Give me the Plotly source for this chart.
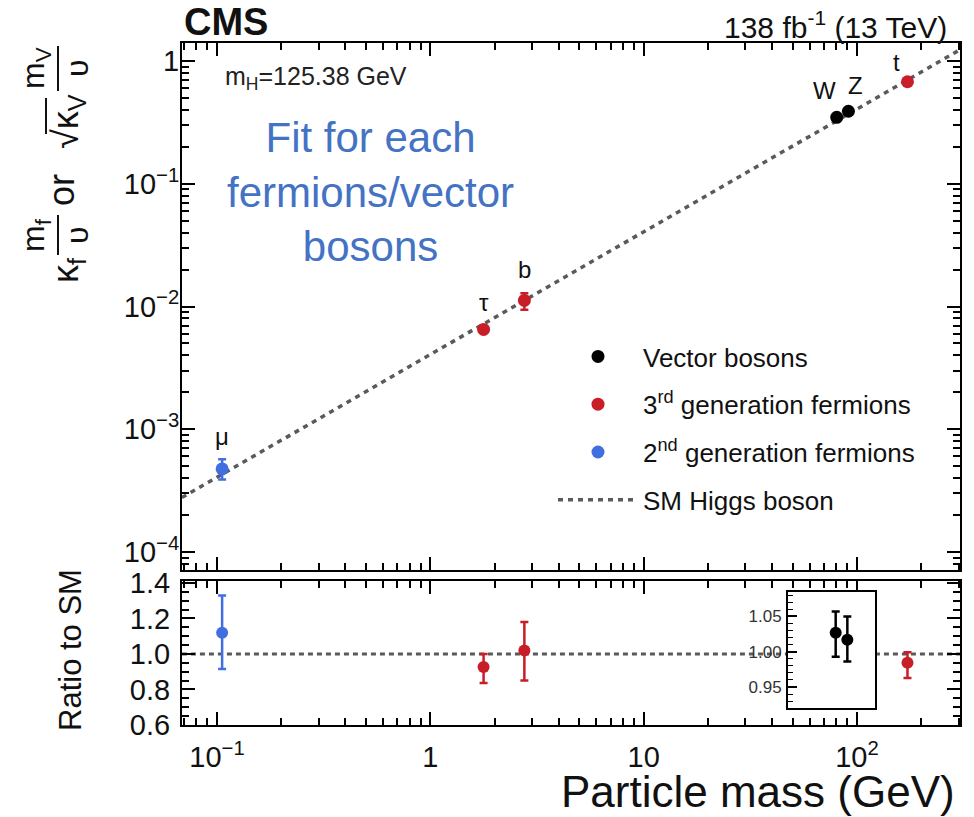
import numpy as np
import plotly.graph_objects as go

W, H = 974, 817
def px(x):
    return x / W
def py(y):
    return 1 - y / H

# ---------------- data ----------------
# Vector bosons (W, Z)
vb_names = ["W", "Z"]
vb_mass = [80.38, 91.19]
vb_val = [0.348, 0.390]
vb_err_up = [0.012, 0.013]
vb_err_dn = [0.012, 0.013]
vb_ratio = [1.027, 1.017]
vb_ratio_up = [0.030, 0.033]
vb_ratio_dn = [0.034, 0.031]

# 3rd generation fermions (tau, b, t)
g3_names = ["τ", "b", "t"]
g3_mass = [1.777, 2.76, 172.5]
g3_val = [0.0065, 0.0112, 0.678]
g3_err_up = [0.0004, 0.0016, 0.02]
g3_err_dn = [0.0004, 0.0018, 0.02]
g3_ratio = [0.927, 1.02, 0.95]
g3_ratio_up = [0.073, 0.16, 0.06]
g3_ratio_dn = [0.09, 0.17, 0.085]

# 2nd generation fermions (mu)
g2_names = ["μ"]
g2_mass = [0.1057]
g2_val = [4.75e-4]
g2_err_up = [0.94e-4]
g2_err_dn = [0.85e-4]
g2_ratio = [1.12]
g2_ratio_up = [0.21]
g2_ratio_dn = [0.205]

# SM Higgs boson expectation
sm_mass = [0.0685, 305.0]
sm_val = [2.78e-4, 1.239]
sm_ratio = [1.0, 1.0]

# tick labels
x_tickvals = [0.1, 1, 10, 100]
x_ticktext = ["10<sup>−1</sup>", "1", "10", "10<sup>2</sup>"]
y_tickvals = [1e-4, 1e-3, 1e-2, 1e-1, 1]
y_ticktext = ["10<sup>−4</sup>", "10<sup>−3</sup>", "10<sup>−2</sup>", "10<sup>−1</sup>", "1"]
r_tickvals = [0.6, 0.8, 1.0, 1.2, 1.4]
inset_tickvals = [0.95, 1.00, 1.05]

# label placement offsets (px) for particle names
label_offsets = {"μ": (0, 32), "τ": (0, 27), "b": (0, 31), "W": (-12, 27), "Z": (7, 26), "t": (-11, 19)}

# ---------------- styling ----------------
FONT = "Liberation Sans, Arial, sans-serif"
BLACK = "#000000"
RED = "#c81e28"
BLUE = "#416ee1"
GRAY = "#5a5a5a"

minor_x = [d * 10.0 ** e for e in range(-2, 3) for d in range(2, 10)]
minor_y = [d * 10.0 ** e for e in range(-5, 1) for d in range(2, 10)]

fig = go.Figure()

def err(up, dn, color, width=4):
    return dict(type="data", symmetric=False, array=up, arrayminus=dn,
                color=color, thickness=2.5, width=width, visible=True)

# main panel
fig.add_trace(go.Scatter(x=sm_mass, y=sm_val, mode="lines", name="SM Higgs boson",
                         line=dict(color=GRAY, width=3.5, dash="5px,5px"),
                         legendgroup="d", legendrank=4, xaxis="x", yaxis="y"))
fig.add_trace(go.Scatter(x=vb_mass, y=vb_val, mode="markers", name="Vector bosons",
                         marker=dict(color=BLACK, size=13), error_y=err(vb_err_up, vb_err_dn, BLACK),
                         legendgroup="a", legendrank=1, xaxis="x", yaxis="y"))
fig.add_trace(go.Scatter(x=g3_mass, y=g3_val, mode="markers", name="3<sup>rd</sup> generation fermions",
                         marker=dict(color=RED, size=13), error_y=err(g3_err_up, g3_err_dn, RED),
                         legendgroup="b", legendrank=2, xaxis="x", yaxis="y"))
fig.add_trace(go.Scatter(x=g2_mass, y=g2_val, mode="markers", name="2<sup>nd</sup> generation fermions",
                         marker=dict(color=BLUE, size=13), error_y=err(g2_err_up, g2_err_dn, BLUE),
                         legendgroup="c", legendrank=3, xaxis="x", yaxis="y"))

# ratio panel
fig.add_trace(go.Scatter(x=sm_mass, y=sm_ratio, mode="lines", showlegend=False,
                         line=dict(color=GRAY, width=3, dash="5px,4px"), xaxis="x2", yaxis="y2"))
fig.add_trace(go.Scatter(x=g3_mass, y=g3_ratio, mode="markers", showlegend=False,
                         marker=dict(color=RED, size=12), error_y=err(g3_ratio_up, g3_ratio_dn, RED),
                         xaxis="x2", yaxis="y2"))
fig.add_trace(go.Scatter(x=g2_mass, y=g2_ratio, mode="markers", showlegend=False,
                         marker=dict(color=BLUE, size=12), error_y=err(g2_ratio_up, g2_ratio_dn, BLUE),
                         xaxis="x2", yaxis="y2"))
# inset
fig.add_trace(go.Scatter(x=vb_mass, y=vb_ratio, mode="markers", showlegend=False,
                         marker=dict(color=BLACK, size=12), error_y=err(vb_ratio_up, vb_ratio_dn, BLACK),
                         xaxis="x3", yaxis="y3"))

axis_common = dict(showline=True, linecolor=BLACK, linewidth=2, mirror="allticks",
                   ticks="inside", ticklen=13, tickwidth=1.8, tickcolor=BLACK,
                   showgrid=False, zeroline=False, automargin=False)

xr = [-1.164, 2.483]
fig.update_layout(
    width=W, height=H, margin=dict(l=0, r=0, t=0, b=0, autoexpand=False),
    paper_bgcolor="white", plot_bgcolor="white",
    font=dict(family=FONT, color="#111"),
    xaxis=dict(**axis_common, type="log", domain=[px(182), px(960)], range=xr, anchor="y",
               tickmode="array", tickvals=x_tickvals, showticklabels=False,
               minor=dict(ticks="inside", ticklen=7, tickwidth=1.5, tickcolor=BLACK,
                          tickmode="array", tickvals=minor_x)),
    yaxis=dict(**axis_common, type="log", domain=[py(570), py(43)], range=[-4.147, 0.147], anchor="x",
               tickmode="array", tickvals=y_tickvals, ticktext=y_ticktext,
               tickfont=dict(size=29, color="#111"), ticklabelstandoff=-5,
               minor=dict(ticks="inside", ticklen=7, tickwidth=1.5, tickcolor=BLACK,
                          tickmode="array", tickvals=minor_y)),
    xaxis2=dict(**axis_common, type="log", domain=[px(182), px(960)], range=xr, anchor="y2",
                tickmode="array", tickvals=x_tickvals, ticktext=x_ticktext,
                tickfont=dict(size=29, color="#111"), ticklabelstandoff=5,
                minor=dict(ticks="inside", ticklen=7, tickwidth=1.5, tickcolor=BLACK,
                           tickmode="array", tickvals=minor_x)),
    yaxis2=dict(**axis_common, domain=[py(725), py(581)], range=[0.6, 1.411], anchor="x2",
                tickmode="array", tickvals=r_tickvals, tickformat=".1f",
                tickfont=dict(size=29, color="#111"), ticklabelstandoff=4,
                minor=dict(ticks="inside", ticklen=7, tickwidth=1.5, tickcolor=BLACK,
                           dtick=0.05, tick0=0.6)),
    xaxis3=dict(showline=True, linecolor=BLACK, linewidth=2, mirror=True, ticks="",
                showticklabels=False, showgrid=False, zeroline=False, automargin=False,
                type="log", domain=[px(788), px(875)], range=[1.681, 2.090], anchor="y3"),
    yaxis3=dict(showline=True, linecolor=BLACK, linewidth=2, mirror=True, ticks="inside",
                ticklen=9, tickwidth=1.5, tickcolor=BLACK, showgrid=False, zeroline=False,
                automargin=False,
                domain=[py(708), py(592)], range=[0.9203, 1.0846], anchor="x3",
                tickmode="array", tickvals=inset_tickvals, tickformat=".2f",
                tickfont=dict(size=17, color="#333"), ticklabelstandoff=1,
                minor=dict(ticks="inside", ticklen=5, tickwidth=1.2, tickcolor=BLACK,
                           dtick=0.01, tick0=0.9)),
    legend=dict(x=px(553), y=py(333), xanchor="left", yanchor="top",
                font=dict(size=26, color="#111"), itemwidth=80, tracegroupgap=11,
                bgcolor="rgba(0,0,0,0)", traceorder="grouped"),
)

ann = []
def add_labels(names, mass, vals):
    for n, m, v in zip(names, mass, vals):
        dx, dy = label_offsets[n]
        ann.append(dict(x=np.log10(m), y=np.log10(v), xref="x", yref="y", text=n,
                        showarrow=False, xshift=dx, yshift=dy, font=dict(size=24, color="#111")))
add_labels(vb_names, vb_mass, vb_val)
add_labels(g3_names, g3_mass, g3_val)
add_labels(g2_names, g2_mass, g2_val)

def pann(x, y, text, size, xanchor="center", yanchor="middle", angle=0, color="#111", align="center"):
    ann.append(dict(x=px(x), y=py(y), xref="paper", yref="paper", text=text, showarrow=False,
                    xanchor=xanchor, yanchor=yanchor, textangle=angle,
                    font=dict(size=size, color=color, family=FONT), align=align))

pann(182, 22, "<b>CMS</b>", 38, xanchor="left")
pann(949, 25, "138 fb<sup>-1</sup> (13 TeV)", 30, xanchor="right")
pann(223, 78, "m<sub>H</sub>=125.38 GeV", 25, xanchor="left", color="#222")
pann(370, 192, "Fit for each<br>fermions/vector<br>bosons", 42, color="#4472C4")
pann(957, 791, "Particle mass (GeV)", 44, xanchor="right")
pann(70, 650, "Ratio to SM", 31, angle=-90)

# composite y-axis title: κf (mf/υ) or √κV (mV/υ)
pann(68, 270, "κ<sub>f</sub>", 36, angle=-90)
pann(35, 235, "m<sub>f</sub>", 32, angle=-90)
pann(77, 235, "υ", 32, angle=-90)
pann(62, 190, "or", 36, angle=-90)
pann(68, 122, "√κ<sub>V</sub>", 36, angle=-90)
pann(35, 68, "m<sub>V</sub>", 32, angle=-90)
pann(77, 68, "υ", 32, angle=-90)
fig.update_layout(annotations=ann)

fig.update_layout(shapes=[
    dict(type="line", xref="paper", yref="paper", x0=px(58), x1=px(58), y0=py(215), y1=py(255),
         line=dict(color="#111", width=2)),
    dict(type="line", xref="paper", yref="paper", x0=px(58), x1=px(58), y0=py(46), y1=py(91),
         line=dict(color="#111", width=2)),
    dict(type="line", xref="paper", yref="paper", x0=px(46), x1=px(46), y0=py(98), y1=py(134),
         line=dict(color="#111", width=2)),
])

fig.write_html("out.html")
